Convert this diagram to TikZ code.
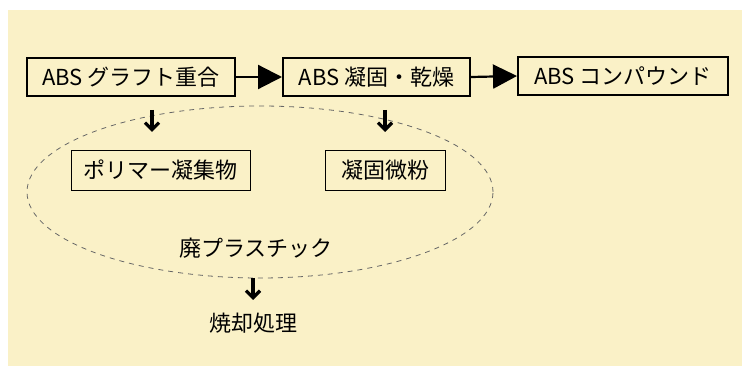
\documentclass[tikz,border=0pt]{standalone}
\usepackage{fontspec}
\setmainfont{Noto Sans CJK JP}
\usetikzlibrary{arrows.meta,shapes.geometric}
\definecolor{bgy}{RGB}{250,241,199}
\begin{document}
\begin{tikzpicture}[x=1pt,y=-1pt,
  mainbox/.style={draw,line width=2pt,minimum height=38pt,inner xsep=6pt,font=\fontsize{22}{24}\selectfont,anchor=center},
  subbox/.style={draw,line width=0.7pt,minimum height=40pt,inner xsep=6pt,font=\fontsize{22}{24}\selectfont},
  plain/.style={font=\fontsize{22}{24}\selectfont},
  bigarrow/.style={line width=2.2pt,-{Triangle[length=24pt,width=24pt]}},
  downarrow/.style={line width=3.2pt,-{Straight Barb[length=7pt,width=14pt]}}]
\useasboundingbox (0,0) rectangle (742,366);
\fill[white] (0,0) rectangle (742,366);
\fill[bgy] (8,10) rectangle (742,366);
\node[mainbox,minimum width=208pt] (b1) at (131,77) {ABS グラフト重合};
\node[mainbox,minimum width=187pt] (b2) at (376.5,77) {ABS 凝固・乾燥};
\node[mainbox,minimum width=210pt] (b3) at (623,76) {ABS コンパウンド};
\draw[bigarrow] (b1.east) -- (b2.west);
\draw[bigarrow] (b2.east) -- (b3.west);
\node[draw,dash pattern=on 5pt off 5pt,line width=0.8pt,color=black!60,ellipse,minimum width=466pt,minimum height=172pt,inner sep=0pt] (ell) at (260,192) {};
\node[subbox,minimum width=179pt] (s1) at (160.5,170) {ポリマー凝集物};
\node[subbox,minimum width=120pt] (s2) at (385,170) {凝固微粉};
\coordinate (a1s) at (152,110);
\coordinate (a1e) at (152,132);
\coordinate (a2s) at (385,110);
\coordinate (a2e) at (385,132);
\draw[downarrow] (a1s) -- (a1e);
\draw[downarrow] (a2s) -- (a2e);
\node[plain] (waste) at (256,248) {廃プラスチック};
\coordinate (a3s) at (253,278);
\coordinate (a3e) at (253,300);
\draw[downarrow] (a3s) -- (a3e);
\node[plain] (inc) at (253,323) {焼却処理};
\end{tikzpicture}
\end{document}
